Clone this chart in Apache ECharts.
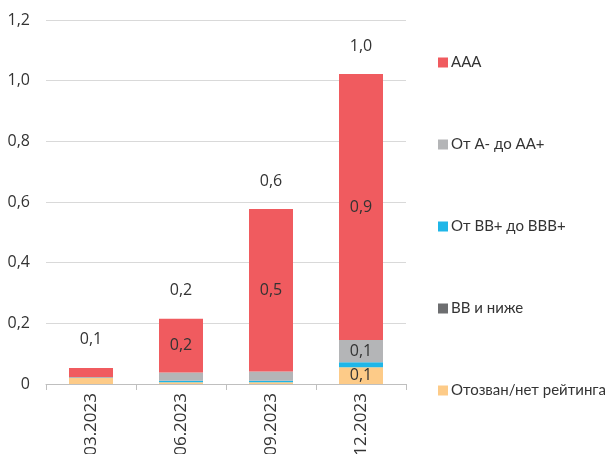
<!DOCTYPE html>
<html>
<head>
<meta charset="utf-8">
<script src="https://cdn.jsdelivr.net/npm/echarts@6/dist/echarts.min.js"></script>
<style>
  html, body { margin: 0; padding: 0; background: #fff; }
  #chart { width: 605px; height: 454px; }
</style>
</head>
<body>
<div id="chart"></div>
<script>
// data
const categories = ['03.2023', '06.2023', '09.2023', '12.2023'];
const revoked = [0.020, 0.006, 0.006, 0.055];   // Отозван/нет рейтинга
const bbLower = [0, 0, 0, 0];                   // BB и ниже
const bbbRange = [0, 0.005, 0.005, 0.017];      // От BB+ до BBB+
const aRange = [0.003, 0.027, 0.030, 0.073];    // От A- до AA+
const aaa = [0.030, 0.177, 0.536, 0.877];       // AAA
const yTicks = [0, 0.2, 0.4, 0.6, 0.8, 1.0, 1.2];

const totals = categories.map((c, i) =>
  revoked[i] + bbLower[i] + bbbRange[i] + aRange[i] + aaa[i]);

const fmt = v => (v === 0 ? '0' : v.toFixed(1).replace('.', ','));
const txt = '#333333';
const font = 'Open Sans';

function seg(name, data, color) {
  return {
    name: name,
    type: 'bar',
    stack: 'total',
    barWidth: 44,
    data: data,
    itemStyle: { color: color },
    label: {
      show: true,
      position: 'inside',
      color: txt,
      fontFamily: font,
      fontSize: 16,
      formatter: p => (p.value >= 0.05 ? fmt(p.value) : '')
    }
  };
}

const chart = echarts.init(document.getElementById('chart'));
chart.setOption({
  animation: false,
  grid: { left: 46, right: 199, top: 20, bottom: 70, containLabel: false, outerBoundsMode: 'none' },
  legend: {
    orient: 'vertical',
    left: 433,
    top: 50,
    itemWidth: 10,
    itemHeight: 10,
    itemGap: 67,
    icon: 'rect',
    data: ['AAA', 'От A- до AA+', 'От BB+ до BBB+', 'BB и ниже', 'Отозван/нет рейтинга'],
    textStyle: { color: txt, fontFamily: 'Lato', fontSize: 15, padding: [0, 0, 0, -2] }
  },
  xAxis: {
    type: 'category',
    data: categories,
    axisLine: { lineStyle: { color: '#bfbfbf' } },
    axisTick: { show: true, length: 6, lineStyle: { color: '#bfbfbf' } },
    axisLabel: { rotate: 90, color: txt, fontFamily: font, fontSize: 17, margin: 9 }
  },
  yAxis: {
    type: 'value',
    min: 0,
    max: 1.2,
    interval: 0.2,
    axisLine: { show: false },
    axisTick: { show: false },
    splitLine: { lineStyle: { color: '#d9d9d9' } },
    axisLabel: {
      color: txt, fontFamily: font, fontSize: 16, margin: 16,
      formatter: v => (yTicks.some(t => Math.abs(t - v) < 1e-9) ? fmt(v) : '')
    }
  },
  series: [
    seg('Отозван/нет рейтинга', revoked, '#fdcb88'),
    seg('BB и ниже', bbLower, '#6d6e70'),
    seg('От BB+ до BBB+', bbbRange, '#1fb6e8'),
    seg('От A- до AA+', aRange, '#b4b5b7'),
    seg('AAA', aaa, '#f05b5f'),
    {
      name: 'total',
      type: 'bar',
      stack: 'total',
      barWidth: 44,
      data: categories.map(() => 0),
      silent: true,
      itemStyle: { color: 'transparent' },
      label: {
        show: true,
        position: 'top',
        distance: 20,
        color: txt,
        fontFamily: font,
        fontSize: 16,
        formatter: p => fmt(totals[p.dataIndex])
      }
    }
  ]
});
</script>
</body>
</html>
